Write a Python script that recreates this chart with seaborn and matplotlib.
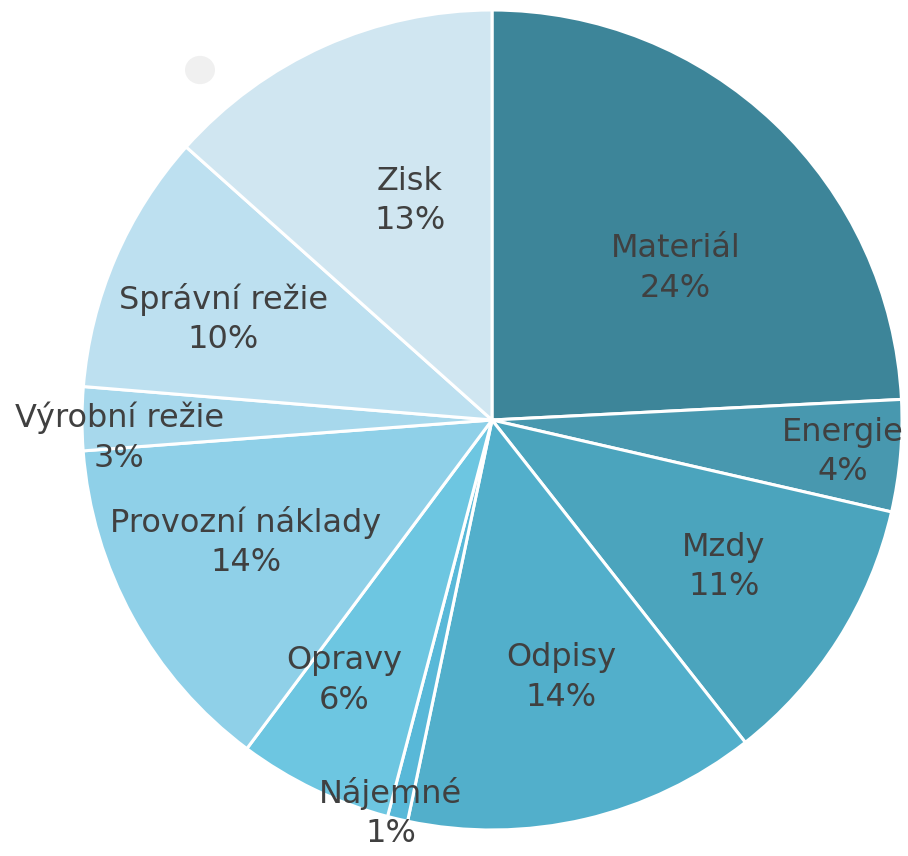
import numpy as np
import matplotlib
matplotlib.use("Agg")
import matplotlib.pyplot as plt
import seaborn as sns
from matplotlib.patches import Circle

categories = ["Materiál", "Energie", "Mzdy", "Odpisy", "Nájemné", "Opravy",
              "Provozní náklady", "Výrobní režie", "Správní režie", "Zisk"]
values = [24.2, 4.4, 10.8, 13.9, 0.8, 6.1, 13.6, 2.5, 10.3, 13.4]
pct_labels = ["24%", "4%", "11%", "14%", "1%", "6%", "14%", "3%", "10%", "13%"]

colors = ["#3d8599", "#4898af", "#4ba4bd", "#52afcb", "#58b8d8", "#6dc6e1",
          "#8fd0e8", "#a7d8ec", "#bde0f0", "#d0e6f1"]

# label placement style: radius fraction and angular offset (deg)
label_r = [0.58, 0.86, 0.67, 0.65, 0.99, 0.73, 0.67, 0.91, 0.70, 0.57]
label_dang = [-6.9, -0.2, 0.0, 1.9, -1.1, -3.8, -2.4, 2.9, 2.6, -3.6]

sns.set_theme(style="white")
plt.rcParams['font.family'] = ['DejaVu Sans']

fig = plt.figure(figsize=(9.08, 8.56), dpi=100)
fig.patch.set_facecolor("white")
W, H = 908, 856
cx, cy, R = 492, 420, 410
ax = fig.add_axes([(cx - R) / W, (H - cy - R) / H, 2 * R / W, 2 * R / H])
ax.axis("off")

wedges, _ = ax.pie(values, colors=colors, startangle=90, counterclock=False,
                   radius=1.0, wedgeprops=dict(edgecolor="white", linewidth=2.2))
ax.set_xlim(-1, 1)
ax.set_ylim(-1, 1)
ax.set_aspect("equal")

for w, name, pct, r, da in zip(wedges, categories, pct_labels, label_r, label_dang):
    mid = np.deg2rad((w.theta1 + w.theta2) / 2 + da)
    x, y = r * np.cos(mid), r * np.sin(mid)
    ax.text(x, y, f"{name}\n{pct}", ha="center", va="center", fontsize=23,
            color="#404040", linespacing=1.35, clip_on=False)

# faint decorative dot
fig.patches.append(Circle((200 / W, 1 - 70 / H), 15 / W, transform=fig.transFigure,
                          facecolor="#f0f0f0", edgecolor="none"))

fig.savefig("out.png", dpi=100, facecolor="white")
